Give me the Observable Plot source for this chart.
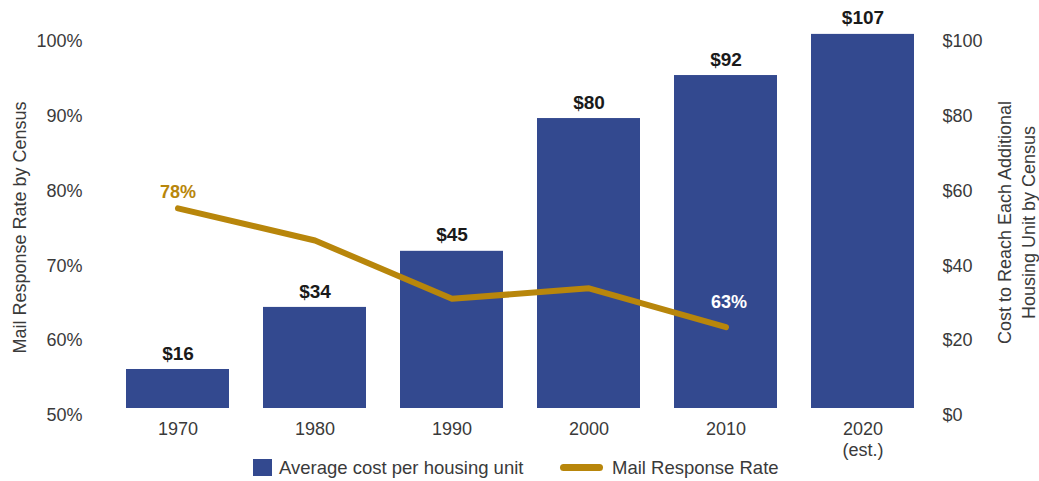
<!DOCTYPE html>
<html>
<head>
<meta charset="utf-8">
<script src="https://cdn.jsdelivr.net/npm/d3@7"></script>
<script src="https://cdn.jsdelivr.net/npm/@observablehq/plot@0.6"></script>
<style>
  html, body { margin: 0; padding: 0; background: #ffffff; }
  body { position: relative; width: 1039px; height: 481px; overflow: hidden;
         font-family: "Liberation Sans", Arial, sans-serif; }
  #legend { position: absolute; left: 0; top: 455px; width: 1039px; height: 26px; }
  .sw-bar { position: absolute; left: 253px; top: 4px; width: 19px; height: 17px; background: #33498f; }
  .sw-line { position: absolute; left: 560px; top: 9px; width: 43px; height: 7px; border-radius: 3.5px; background: #b8860b; }
  .lg-text { position: absolute; top: 0; line-height: 26px; font-size: 18.5px; color: #3a3a3a; white-space: nowrap; }
</style>
</head>
<body>
<div id="chart"></div>
<div id="legend">
  <div class="sw-bar"></div><div class="lg-text" style="left:279px">Average cost per housing unit</div>
  <div class="sw-line"></div><div class="lg-text" style="left:612px">Mail Response Rate</div>
</div>
<script>
// ---- data ----
const years = ["1970", "1980", "1990", "2000", "2010", "2020"];
const yearLabels = ["1970", "1980", "1990", "2000", "2010", "2020\n(est.)"];
const costValues = [12.3, 28.9, 43.9, 79.4, 90.9, 101.9];
const costLabels = ["$16", "$34", "$45", "$80", "$92", "$107"];
const rateYears = ["1970", "1980", "1990", "2000", "2010"];
const rateValues = [77.7, 73.4, 65.6, 67.0, 61.8];
const rateLabels = ["78%", "", "", "", "63%"];
const pctTicks = [50, 60, 70, 80, 90, 100];
const dollarTicks = [0, 20, 40, 60, 80, 100];
const leftTitle = "Mail Response Rate by Census";
const rightTitle = "Cost to Reach Each Additional\nHousing Unit by Census";

// ---- tables ----
const bars = years.map((year, i) => ({year, cost: costValues[i], label: costLabels[i]}));
const rates = rateYears.map((year, i) => ({year, rate: rateValues[i], label: rateLabels[i]}));
// percent axis (50%–100%) shares the plot with the dollar axis ($0–$100)
const pctToY = p => (p - 50) * 2;

const blue = "#33498f";
const gold = "#b8860b";

const chart = Plot.plot({
  width: 1039,
  height: 455,
  marginLeft: 109,
  marginRight: 108,
  marginTop: 41,
  marginBottom: 40,
  style: {fontFamily: "'Liberation Sans', Arial, sans-serif", fontSize: "18px", color: "#3a3a3a", background: "#ffffff", overflow: "visible"},
  x: {domain: years, paddingInner: 0.25, paddingOuter: 0.125},
  y: {domain: [0, 100]},
  marks: [
    Plot.barY(bars, {x: "year", y: "cost", fill: blue, insetBottom: 7}),
    Plot.text(bars, {x: "year", y: "cost", text: "label", dy: -16, fontWeight: "bold", fontSize: 19, fill: "#1a1a1a"}),
    Plot.line(rates, {x: "year", y: d => pctToY(d.rate), stroke: gold, strokeWidth: 6, strokeLinejoin: "round"}),
    Plot.text(rates.filter(d => d.year === "1970"), {x: "year", y: d => pctToY(d.rate), text: "label", dy: -16, fill: gold, fontWeight: "bold", fontSize: 18}),
    Plot.text(rates.filter(d => d.year === "2010"), {x: "year", y: d => pctToY(d.rate), text: "label", dy: -25, dx: 3, fill: "#ffffff", fontWeight: "bold", fontSize: 18}),
    Plot.axisX({tickSize: 0, tickPadding: 4, label: null, fontSize: 18, lineHeight: 1.2,
      tickFormat: d => yearLabels[years.indexOf(d)]}),
    Plot.axisY(pctTicks.map(pctToY), {anchor: "left", tickSize: 0, tickPadding: 27, label: null, fontSize: 18,
      tickFormat: d => (50 + d / 2) + "%"}),
    Plot.axisY(dollarTicks, {anchor: "right", tickSize: 0, tickPadding: 11, label: null, fontSize: 18,
      tickFormat: d => "$" + d}),
    Plot.text([leftTitle], {frameAnchor: "left", dx: -89, dy: -1, rotate: -90, text: d => d, textAnchor: "middle", lineAnchor: "middle", fontSize: 18, fill: "#3a3a3a"}),
    Plot.text([rightTitle], {frameAnchor: "right", dx: 84, dy: -6, rotate: -90, text: d => d, textAnchor: "middle", lineAnchor: "middle", fontSize: 18, lineHeight: 1.33, fill: "#3a3a3a"})
  ]
});
document.getElementById("chart").appendChild(chart);
</script>
</body>
</html>
